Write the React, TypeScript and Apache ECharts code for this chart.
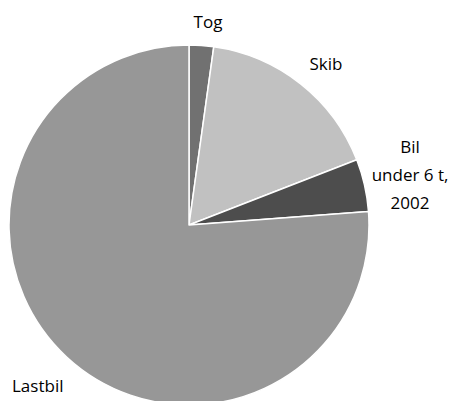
import React, { useEffect, useRef } from "react";
import * as echarts from "echarts";

const categories = ["Tog", "Skib", "Bil\nunder 6 t,\n2002", "Lastbil"];
const values = [2.2, 16.9, 4.7, 76.2];
const colors = ["#717171", "#c1c1c1", "#4d4d4d", "#979797"];
const labelPos: [number, number, string][] = [
  [208, 21, "center"],
  [326, 63, "center"],
  [410, 174, "center"],
  [12, 385, "left"],
];

export default function App() {
  const ref = useRef<HTMLDivElement>(null);
  useEffect(() => {
    if (!ref.current) return;
    const chart = echarts.init(ref.current, null, { renderer: "svg" });
    chart.setOption({
      animation: false,
      backgroundColor: "#ffffff",
      series: [
        {
          type: "pie",
          center: [189, 225],
          radius: 180,
          startAngle: 90,
          clockwise: true,
          avoidLabelOverlap: false,
          data: categories.map((name, i) => ({
            name,
            value: values[i],
            itemStyle: { color: colors[i] },
          })),
          itemStyle: { borderColor: "#ffffff", borderWidth: 1.5 },
          label: {
            show: true,
            position: "outside",
            formatter: "{b}",
            color: "#000000",
            fontFamily: "Open Sans",
            fontSize: 17,
            lineHeight: 28,
            align: "center",
          },
          labelLine: { show: false },
          labelLayout: (p: any) => {
            const lp = labelPos[p.dataIndex];
            return {
              x: lp[0],
              y: lp[1],
              align: lp[2],
              verticalAlign: "middle",
              draggable: false,
            };
          },
          emphasis: { disabled: true },
        },
      ],
    });
    return () => chart.dispose();
  }, []);
  return (
    <div
      ref={ref}
      style={{ position: "fixed", left: 0, top: 0, width: 454, height: 401 }}
    />
  );
}
